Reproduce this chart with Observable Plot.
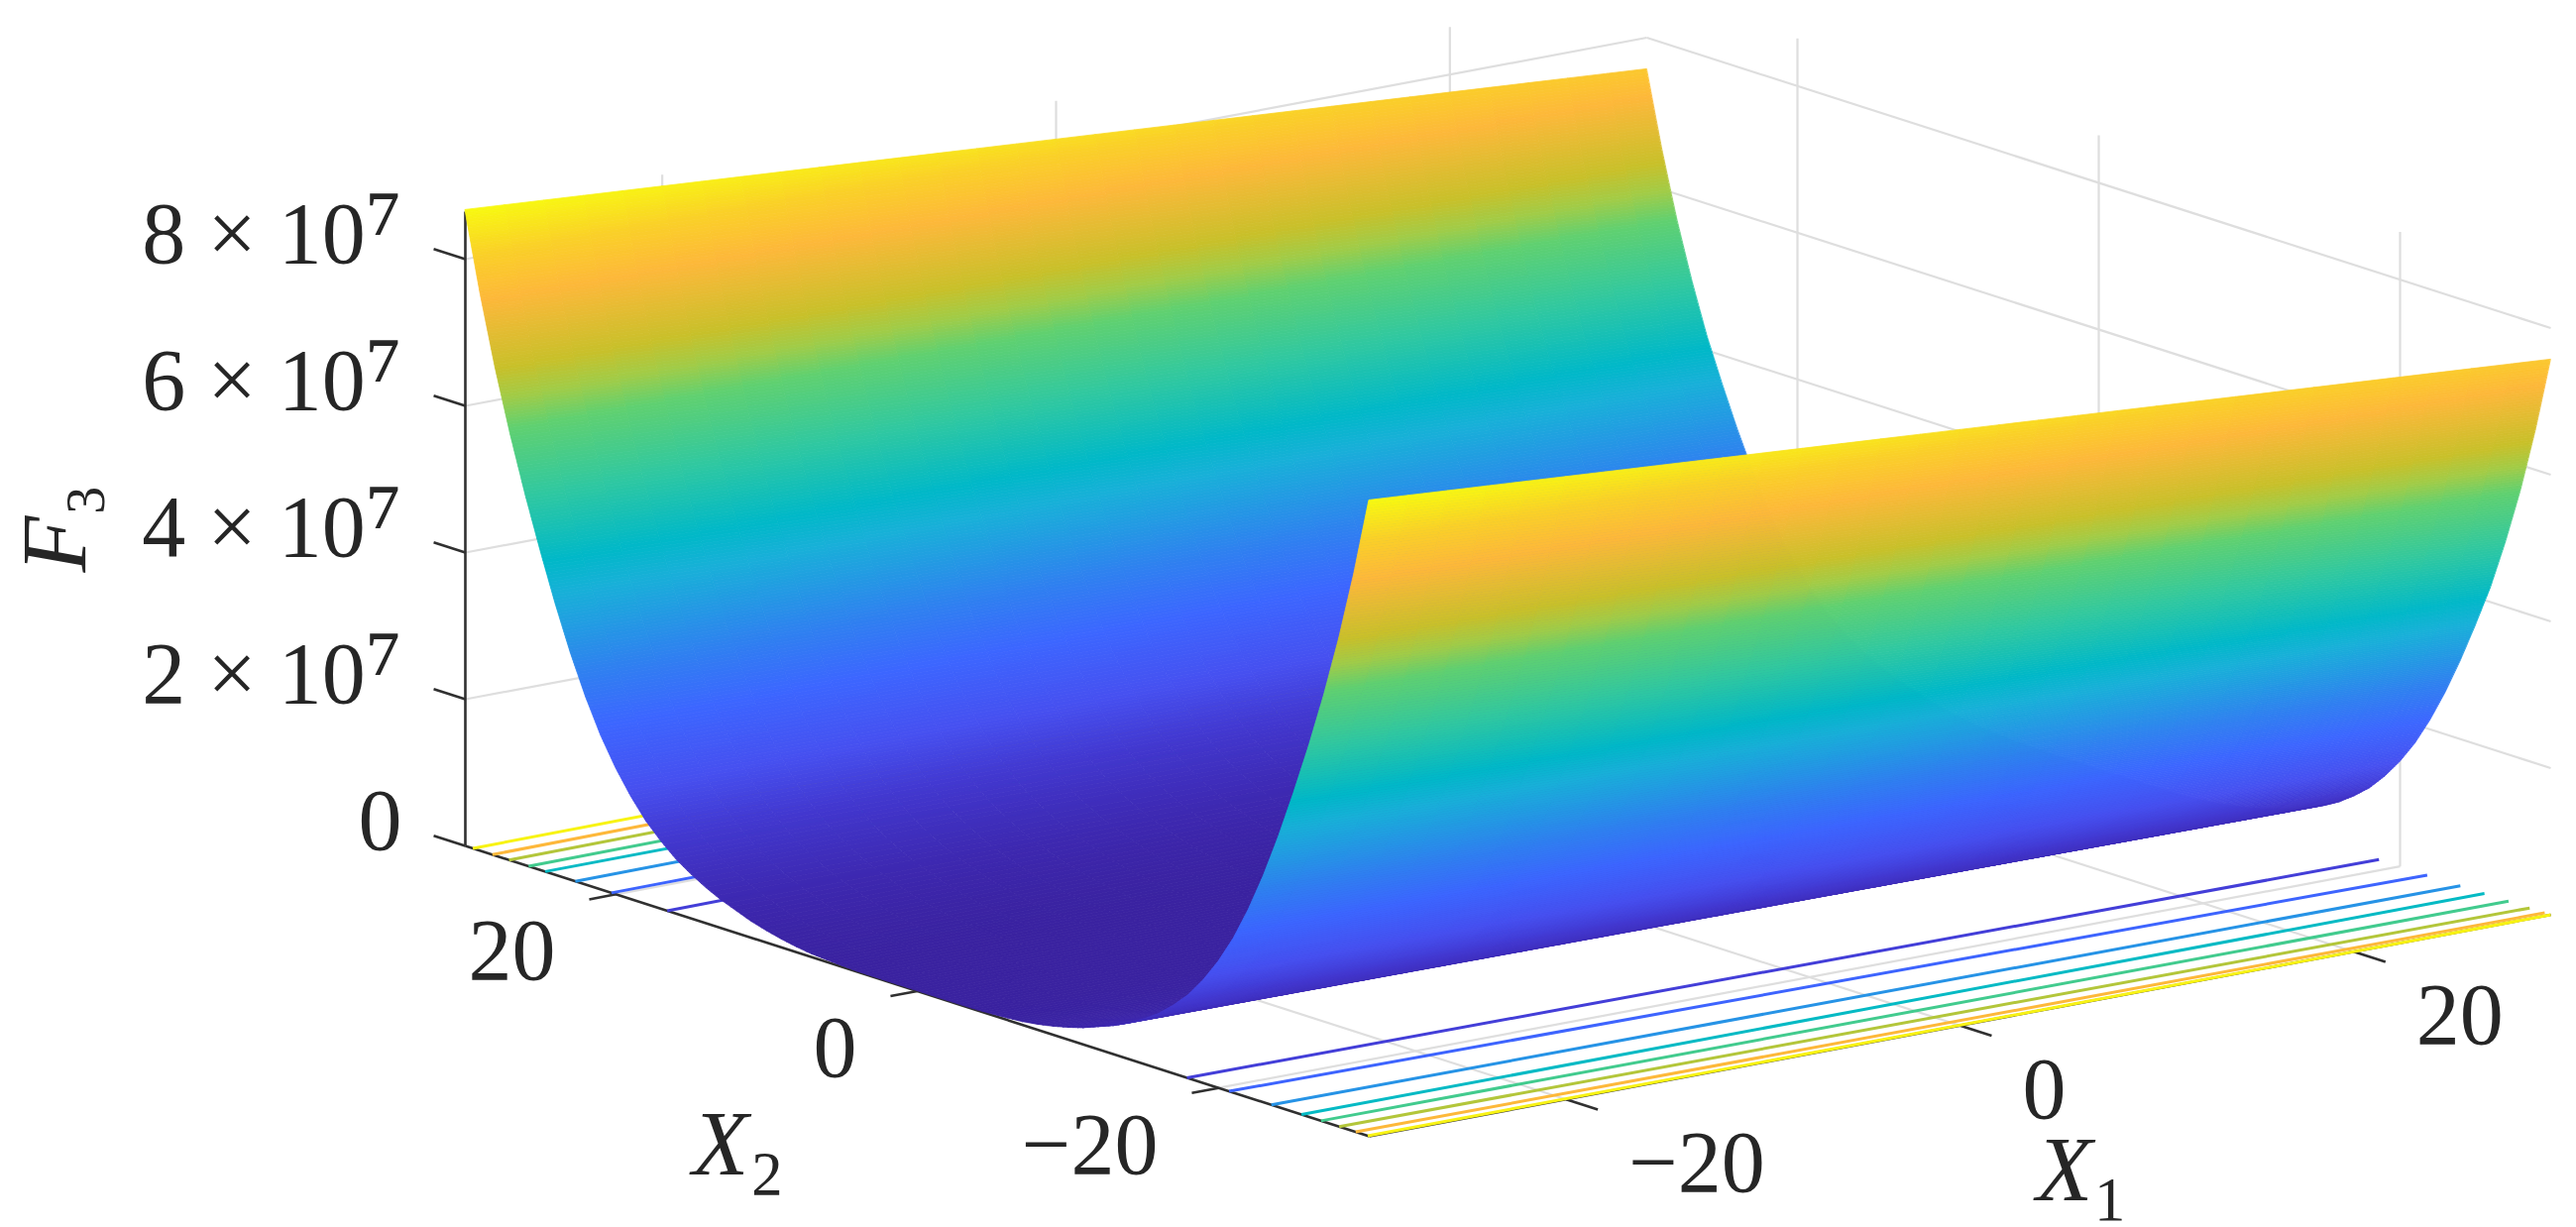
<!DOCTYPE html>
<html>
<head>
<meta charset="utf-8">
<script src="https://cdn.jsdelivr.net/npm/d3@7"></script>
<script src="https://cdn.jsdelivr.net/npm/@observablehq/plot@0.6"></script>
<style>
html,body{margin:0;padding:0;background:#fff;overflow:hidden}
svg{display:block}
</style>
</head>
<body>
<div id="chart"></div>
<script>
// Values
const x2Profile = [0, 1, 2, 3, 4, 5, 6, 7, 8, 9, 10, 11, 12, 13, 14, 15, 16, 17, 18, 19, 20, 21, 22, 23, 24, 25, 26, 27, 28, 29, 30];
const zProfile  = [0, 0, 0, 0.001, 0.003, 0.012, 0.025, 0.04, 0.07, 0.11, 0.16, 0.22, 0.30, 0.38, 0.48, 0.60, 0.74, 0.92, 1.13, 1.40, 1.72, 2.10, 2.56, 3.09, 3.69, 4.35, 5.05, 5.81, 6.65, 7.60, 8.67];
const x1Edge = [-30, 30];
const x2Ratio = [0, 22, 26, 28, 30];
const rightEdgeRatio = [0.82, 0.83, 0.83, 0.85, 0.873];
const colorTop = [8.67, 8.35];
const x1Ticks = [-20, 0, 20];
const x2Ticks = [-20, 0, 20];
const zTicks = [0, 2e7, 4e7, 6e7, 8e7];
const x1TickLabels = ["\u221220", "0", "20"];
const x2TickLabels = ["\u221220", "0", "20"];
const zTickLabels = ["0", "2 \u00d7 10\u2077", "4 \u00d7 10\u2077", "6 \u00d7 10\u2077", "8 \u00d7 10\u2077"];
const zGrid = [2e7, 4e7, 6e7, 8e7];
const contourLevels = [1, 2, 3, 4, 5, 6, 7, 8];
const contourFarStart = [16.6, 20.3, 22.7, 24.7, 25.8, 27.1, 28.2, 29.5];
const contourFarEnd = [17.3, 20.9, 23.3, 24.9, 26.5, 27.9, 29.0, 30];
const contourNearStart = [-17.9, -20.7, -23.5, -25.5, -26.8, -28.0, -29.1, -29.9];
const contourNearEnd = [-18.6, -21.8, -24.0, -25.6, -27.2, -28.6, -29.6, -30];
const colorStops = [0, 0.04, 0.109, 0.17, 0.254, 0.327, 0.40, 0.438, 0.484, 0.58, 0.677, 0.72, 0.763, 0.864, 0.93, 1];
const colorRamp = ["#3a22a0", "#3d28b0", "#4238d0", "#4650f0", "#3c66ff", "#2f80f0", "#20a0e0", "#18b0d8", "#00b8c8", "#30c8a0", "#60d070", "#a0cc48", "#c8c02a", "#fdb83a", "#fad028", "#f8fa10"];

// Orthographic view of the box
const project = (a, b, z) => [
  1521 + 19.867 * a - 15.2 * b,
  887.75 - 3.725 * a - 4.883 * b - z * 7.4e-6
];
const X1 = 30, X2 = 30, ZTOP = 8.65e7;

const prof = d3.scaleLinear().domain(x2Profile).range(zProfile);
const ratio = d3.scaleLinear().domain(x2Ratio).range(rightEdgeRatio);
const along = d3.scaleLinear().domain(x1Edge).range([0, 1]);
const topC = d3.scaleLinear().domain(x1Edge).range(colorTop);
const zAt = (a, b) => prof(Math.abs(b)) * (1 + (ratio(Math.abs(b)) - 1) * along(a));

// Shaded mesh between the readings, painted from the far side to the near side
const farHalf = [];
for (let i = x2Profile.length - 1; i > 0; i--) {
  const hi = x2Profile[i], lo = x2Profile[i - 1];
  const n = Math.max(3, Math.ceil((zProfile[i] - zProfile[i - 1]) / 0.04));
  for (let k = 0; k < n; k++) farHalf.push(hi + (lo - hi) * k / n);
}
const stripEdges = [...farHalf, 0, ...farHalf.slice().reverse().map(v => -v)];
const nSeg = 30, rows = [];
let id = 0;
for (let j = 0; j + 1 < stripEdges.length; j++) {
  const b0 = stripEdges[j], b1 = stripEdges[j + 1];
  for (let i = 0; i < nSeg; i++) {
    const a0 = X1 - 2 * X1 * i / nSeg, a1 = X1 - 2 * X1 * (i + 1) / nSeg;
    const am = (a0 + a1) / 2, bm = (b0 + b1) / 2;
    const s = Math.min(1, zAt(am, bm) / topC(am));
    for (const a of [a0, a1]) {
      const p = project(a, b0, zAt(a, b0) * 1e7), q = project(a, b1, zAt(a, b1) * 1e7);
      rows.push({id, s, ax: p[0], ay: p[1], bx: q[0], by: q[1]});
    }
    id++;
  }
}

const seg = (p, q) => ({x1: p[0], y1: p[1], x2: q[0], y2: q[1]});
const grid = [
  ...x1Ticks.map(v => seg(project(v, X2, 0), project(v, X2, ZTOP))),
  ...x2Ticks.map(v => seg(project(X1, v, 0), project(X1, v, ZTOP))),
  ...x1Ticks.map(v => seg(project(v, -X2, 0), project(v, X2, 0))),
  ...x2Ticks.map(v => seg(project(-X1, v, 0), project(X1, v, 0))),
  ...zGrid.map(z => seg(project(-X1, X2, z), project(X1, X2, z))),
  ...zGrid.map(z => seg(project(X1, X2, z), project(X1, -X2, z)))
];
const axes = [
  seg(project(-X1, X2, 0), project(-X1, -X2, 0)),
  seg(project(-X1, -X2, 0), project(X1, -X2, 0)),
  seg(project(-X1, X2, 0), project(-X1, X2, ZTOP)),
  ...zTicks.map(z => seg(project(-X1, X2, z), project(-X1, X2 + 2.1, z))),
  ...x2Ticks.map(v => seg(project(-X1, v, 0), project(-X1 - 1.36, v, 0))),
  ...x1Ticks.map(v => seg(project(v, -X2, 0), project(v, -X2 - 2.1, 0)))
];
const contourRows = contourLevels.flatMap((lv, i) => [
  {...seg(project(-X1, contourFarStart[i], 0), project(X1, contourFarEnd[i], 0)), s: lv / 8.1},
  {...seg(project(-X1, contourNearStart[i], 0), project(X1, contourNearEnd[i], 0)), s: lv / 8.1}
]);

const pos = (v, f) => ({x: f(v)[0], y: f(v)[1]});
const zLab = zTicks.map((z, i) => ({...pos(z, v => project(-X1, X2, v)), t: zTickLabels[i]}));
const x2Lab = x2Ticks.map((v, i) => ({...pos(v, u => project(-X1, u, 0)), t: x2TickLabels[i]}));
const x1Lab = x1Ticks.map((v, i) => ({...pos(v, u => project(u, -X2, 0)), t: x1TickLabels[i]}));

const font = {fontFamily: "Liberation Serif", fontSize: 88, fill: "#262626", lineAnchor: "bottom"};
const title = {fontFamily: "Liberation Serif", fontSize: 93, fontStyle: "italic", fill: "#262626", lineAnchor: "bottom", textAnchor: "start"};
const corner = project(-X1, -X2, 0), zOrigin = project(-X1, X2, 0);

const plot = Plot.plot({
  width: 2599, height: 1238,
  marginTop: 0, marginRight: 0, marginBottom: 0, marginLeft: 0,
  x: {domain: [0, 2599], range: [0, 2599], axis: null},
  y: {domain: [0, 1238], range: [0, 1238], axis: null},
  color: {type: "linear", domain: colorStops, range: colorRamp, clamp: true},
  style: {background: "#fff"},
  marks: [
    Plot.link(grid, {x1: "x1", y1: "y1", x2: "x2", y2: "y2", stroke: "#dedede", strokeWidth: 2.2}),
    Plot.link(axes, {x1: "x1", y1: "y1", x2: "x2", y2: "y2", stroke: "#303030", strokeWidth: 2.6}),
    Plot.link(contourRows, {x1: "x1", y1: "y1", x2: "x2", y2: "y2", stroke: "s", strokeWidth: 3}),
    Plot.area(rows, {x1: "ax", y1: "ay", x2: "bx", y2: "by", z: "id", fill: "s", stroke: "s", strokeWidth: 0.8}),
    Plot.text(zLab, {x: "x", y: "y", text: "t", textAnchor: "end", dx: -64, dy: 3, ...font}),
    Plot.text(x2Lab, {x: "x", y: "y", text: "t", textAnchor: "end", dx: -61, dy: 86, ...font}),
    Plot.text(x1Lab, {x: "x", y: "y", text: "t", textAnchor: "start", dx: 63, dy: 93, ...font}),
    Plot.text(["X\u2082"], {x: corner[0], y: corner[1], dx: -683, dy: 39, ...title}),
    Plot.text(["X\u2081"], {x: corner[0], y: corner[1], dx: 673, dy: 65, ...title}),
    Plot.text(["F\u2083"], {x: zOrigin[0], y: zOrigin[1], dx: -383, dy: -276, rotate: -90, ...title})
  ]
});

// Raised and lowered figures take their own size and upright style
d3.select(plot).selectAll("text").each(function () {
  const m = this.textContent.match(/^(.*)([\u2077\u2081\u2082\u2083])$/);
  if (!m) return;
  this.textContent = "";
  const sel = d3.select(this);
  sel.append("tspan").text(m[1]);
  sel.append("tspan").text(m[2]).attr("font-size", m[2] === "\u2083" ? 93 : 105).style("font-style", "normal");
});
document.getElementById("chart").appendChild(plot);
</script>
</body>
</html>
